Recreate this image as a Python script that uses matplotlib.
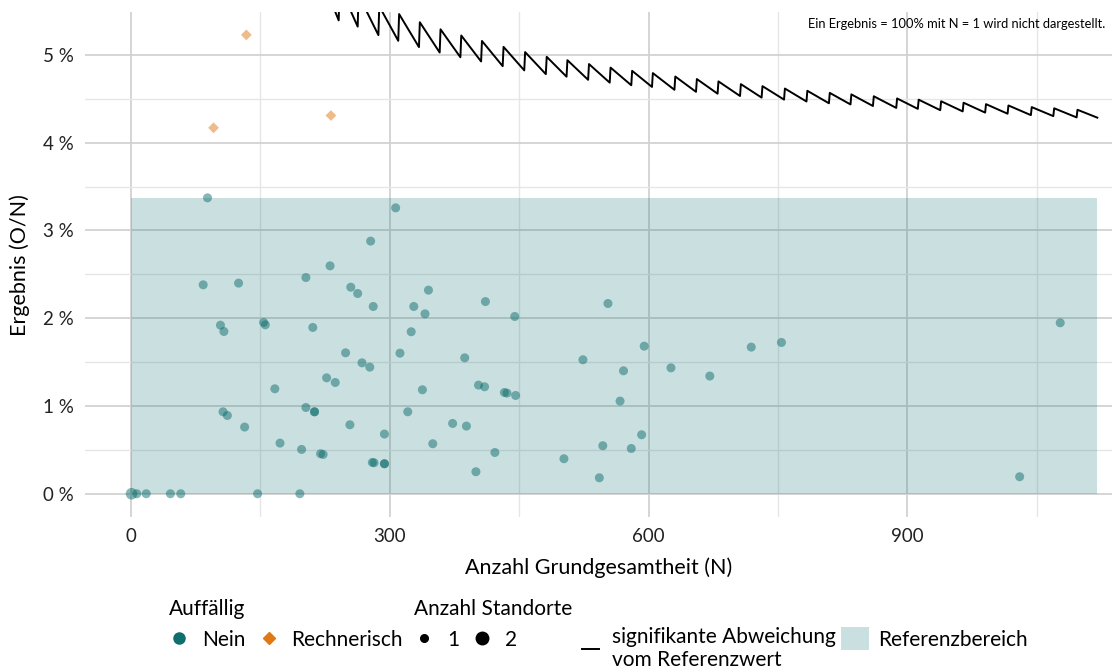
import matplotlib

matplotlib.use("Agg")
import matplotlib.pyplot as plt
from matplotlib.lines import Line2D
from matplotlib.patches import Patch, Rectangle
from matplotlib.ticker import FuncFormatter, MultipleLocator

plt.rcParams["font.family"] = ["Lato", "DejaVu Sans"]

TEAL = "#0f6e6e"
ORANGE = "#e07814"

# Standorte (Auffällig = Nein): Grundgesamtheit N, Ergebnis in %, Anzahl Standorte
nein_n = [1, 7, 18, 46, 58, 147, 196, 89, 307, 278, 231, 84, 125, 203, 255, 263,
          345, 281, 328, 341, 411, 104, 108, 154, 156, 211, 325, 249, 312, 268,
          277, 387, 227, 237, 167, 338, 403, 410, 107, 112, 203, 213, 213, 321,
          132, 254, 373, 389, 294, 173, 350, 198, 220, 223, 280, 282, 294, 294,
          400, 422, 445, 433, 436, 446, 553, 524, 595, 571, 567, 626, 671, 719,
          754, 592, 547, 580, 502, 543, 1030, 1077]
nein_pct = [0.0, 0.0, 0.0, 0.0, 0.0, 0.0, 0.0, 3.372, 3.258, 2.879, 2.597, 2.381,
            2.40, 2.464, 2.354, 2.282, 2.320, 2.134, 2.134, 2.05, 2.19, 1.921,
            1.849, 1.952, 1.925, 1.895, 1.846, 1.606, 1.602, 1.492, 1.443, 1.549,
            1.321, 1.268, 1.196, 1.185, 1.238, 1.219, 0.934, 0.892, 0.983, 0.934,
            0.934, 0.934, 0.76, 0.786, 0.801, 0.771, 0.68, 0.577, 0.57, 0.505,
            0.456, 0.448, 0.357, 0.353, 0.342, 0.342, 0.251, 0.47, 2.02, 1.154,
            1.147, 1.12, 2.168, 1.527, 1.682, 1.401, 1.056, 1.435, 1.341, 1.671,
            1.724, 0.672, 0.547, 0.516, 0.399, 0.182, 0.194, 1.948]
nein_sites = [2] + [1] * 79

# Standorte (Auffällig = Rechnerisch)
rech_n = [134, 96, 232]
rech_pct = [5.229, 4.170, 4.310]

# Referenzbereich und Grenze der signifikanten Abweichung
ref_upper = 3.37
n_max = 1120
jump_n = [220, 242, 264, 288, 311, 335, 359, 383, 407, 432, 457, 482, 506, 531,
          556, 581, 605, 631, 656, 681, 707, 732, 758, 784, 810, 835, 861, 888,
          913, 939, 965, 991, 1017, 1044, 1070, 1097]
jump_o = [13, 14, 15, 16, 17, 18, 19, 20, 21, 22, 23, 24, 25, 26, 27, 28, 29,
          30, 31, 32, 33, 34, 35, 36, 37, 38, 39, 40, 41, 42, 43, 44, 45, 46,
          47, 48]

x_ticks = [0, 300, 600, 900]


def step_line(ns, os_, n_end):
    xs, ys = [], []
    for i, (n0, o) in enumerate(zip(ns, os_)):
        n1 = ns[i + 1] - 1 if i + 1 < len(ns) else n_end
        xs += [n0, n1]
        ys += [100 * o / n0, 100 * o / n1]
    return xs, ys


fig = plt.figure(figsize=(11.12, 6.71), dpi=100)
ax = fig.add_axes([0.0764, 0.2295, 0.9236, 0.752])

ax.add_patch(Rectangle((0, 0), n_max, ref_upper, facecolor=TEAL, alpha=0.22,
                       edgecolor="none", zorder=1))

xs, ys = step_line(jump_n, jump_o, n_max)
ax.plot(xs, ys, color="black", lw=1.4, zorder=4)

sizes = [42 if s == 1 else 70 for s in nein_sites]
ax.scatter(nein_n, nein_pct, s=sizes, color=TEAL, alpha=0.5, edgecolors="none", zorder=3)
ax.scatter(rech_n, rech_pct, s=30, marker="D", color=ORANGE, alpha=0.5,
           edgecolors="none", zorder=3)

ax.set_xlim(-53, 1137)
ax.set_ylim(-0.265, 5.485)
ax.set_xticks(x_ticks)
ax.xaxis.set_minor_locator(MultipleLocator(150))
ax.yaxis.set_major_locator(MultipleLocator(1))
ax.yaxis.set_minor_locator(MultipleLocator(0.5))
ax.yaxis.set_major_formatter(FuncFormatter(lambda v, _: f"{v:.0f} %"))

ax.set_axisbelow(True)
ax.grid(which="major", color="#d2d2d2", lw=1.3)
ax.grid(which="minor", color="#e6e6e6", lw=1.0)
for side in ax.spines.values():
    side.set_visible(False)
ax.tick_params(which="both", length=0, labelsize=13.5, colors="#222222", pad=8)
ax.tick_params(axis="y", pad=8)

ax.set_xlabel("Anzahl Grundgesamtheit (N)", fontsize=15.5, labelpad=9)
ax.set_ylabel("Ergebnis (O/N)", fontsize=15.5, labelpad=9)

ax.text(0.993, 0.988, "Ein Ergebnis = 100% mit N = 1 wird nicht dargestellt.",
        transform=ax.transAxes, ha="right", va="top", fontsize=9.3)

# Legenden unter dem Diagramm
leg_kw = dict(frameon=False, fontsize=15, title_fontsize=15, alignment="left",
              handletextpad=0.6, columnspacing=0.6, borderpad=0, borderaxespad=0,
              handlelength=1.0)

h_auff = [Line2D([], [], ls="none", marker="o", ms=8, color=TEAL),
          Line2D([], [], ls="none", marker="D", ms=6, color=ORANGE)]
fig.legend(h_auff, ["Nein", "Rechnerisch"], title="Auffällig", ncol=2,
           loc="upper left", bbox_to_anchor=(0.152, 0.107), **leg_kw)

h_sites = [Line2D([], [], ls="none", marker="o", ms=5.5, color="black"),
           Line2D([], [], ls="none", marker="o", ms=9, color="black")]
fig.legend(h_sites, ["1", "2"], title="Anzahl Standorte", ncol=2,
           loc="upper left", bbox_to_anchor=(0.372, 0.107), **leg_kw)

h_line = [Line2D([], [], color="black", lw=1.4)]
fig.legend(h_line, ["signifikante Abweichung\nvom Referenzwert"],
           loc="center left", bbox_to_anchor=(0.523, 0.034),
           **{**leg_kw, "handlelength": 0.85})

h_patch = [Patch(facecolor=TEAL, alpha=0.22, edgecolor="none")]
fig.legend(h_patch, ["Referenzbereich"], loc="center left",
           bbox_to_anchor=(0.756, 0.048),
           **{**leg_kw, "handlelength": 1.35, "handleheight": 1.35,
              "handletextpad": 0.45})

fig.savefig("out.png", dpi=100)
